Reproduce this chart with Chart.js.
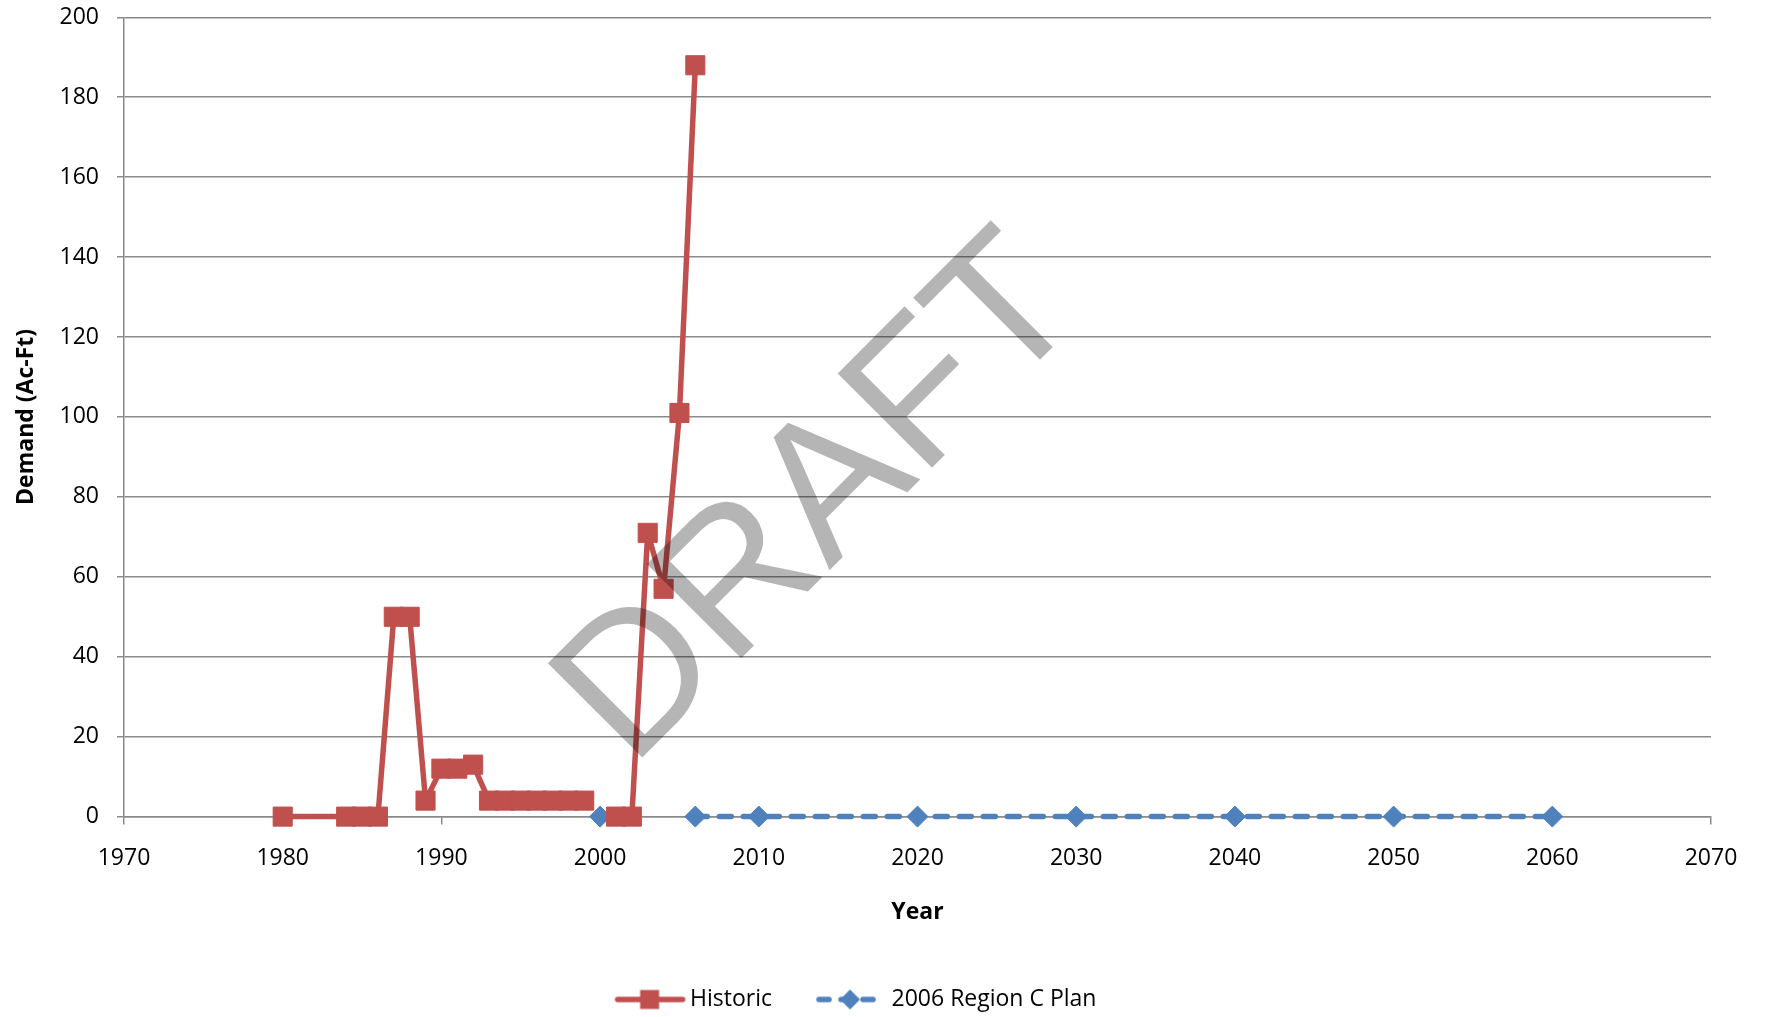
<!DOCTYPE html>
<html>
<head>
<meta charset="utf-8">
<script src="https://cdn.jsdelivr.net/npm/chart.js@4.4.1/dist/chart.umd.min.js"></script>
<style>
html,body{margin:0;padding:0;background:#ffffff;}
#wrap{width:1765px;height:1017px;}
</style>
</head>
<body>
<div id="wrap"><canvas id="c" width="1765" height="1017"></canvas></div>
<script>
// ---- data ----
const historicYears  = [1980,1984,1985,1986,1987,1988,1989,1990,1991,1992,1993,1994,1995,1996,1997,1998,1999,2000,2001,2002,2003,2004,2005,2006];
const historicValues = [0,   0,   0,   0,   50,  50,  4,   12,  12,  13,  4,   4,   4,   4,   4,   4,   4,   null,0,   0,   71,  57,  101, 188];
const planYears  = [2000,2001,2002,2003,2004,2005,2006,2010,2020,2030,2040,2050,2060];
const planValues = [0,   null,null,null,null,null,0,   0,   0,   0,   0,   0,   0];
const seriesNames = ['Historic', '2006 Region C Plan'];
const xTicks = {min: 1970, max: 2070, step: 10};
const yTicks = {min: 0, max: 200, step: 20};
const xAxisTitle = 'Year';
const yAxisTitle = 'Demand (Ac-Ft)';
const watermarkText = 'DRAFT';

// ---- style ----
const RED = '#C0504D';
const BLUE = '#4F81BD';
const GRID = '#8a8a8a';
const FONT = '"Open Sans", "Noto Sans", sans-serif';
const PLOT = {left: 124, right: 1711, top: 17.3, bottom: 816.6};
const PAD_BOTTOM = -4;

function legendIcon(color, dash, shape) {
  const c = document.createElement('canvas');
  c.width = 80; c.height = 26;
  const g = c.getContext('2d');
  g.strokeStyle = color; g.lineWidth = 5.5; g.lineCap = 'round';
  if (dash) g.setLineDash(dash);
  g.beginPath(); g.moveTo(11, 13); g.lineTo(76, 13); g.stroke();
  g.setLineDash([]);
  g.fillStyle = color;
  if (shape === 'rect') {
    g.fillRect(43 - 9.5, 13 - 9.5, 19, 19);
  } else {
    g.beginPath(); g.moveTo(42, 3); g.lineTo(52, 13); g.lineTo(42, 23); g.lineTo(32, 13); g.closePath(); g.fill();
  }
  return c;
}
const icons = [legendIcon(RED, null, 'rect'), legendIcon(BLUE, [10, 12], 'diamond')];

const watermark = {
  id: 'watermark',
  afterDraw(chart) {
    const a = chart.chartArea;
    const ctx = chart.ctx;
    ctx.save();
    ctx.translate(a.left + (a.right - a.left) * 0.3195, a.top + (a.bottom - a.top) * 0.940);
    ctx.rotate(-Math.PI / 4);
    ctx.font = '194px "Liberation Sans", Arial, sans-serif';
    ctx.fillStyle = 'rgba(0,0,0,0.29)';
    ctx.textAlign = 'left';
    ctx.textBaseline = 'alphabetic';
    ctx.fillText(watermarkText, 0, 0);
    ctx.restore();
  }
};

const tickFont = {family: FONT, size: 23};
const titleFont = {family: FONT, size: 23, weight: 'bold'};

new Chart(document.getElementById('c'), {
  type: 'line',
  data: {
    datasets: [
      {
        label: seriesNames[0],
        data: historicYears.map((x, i) => ({x: x, y: historicValues[i]})),
        borderColor: RED, backgroundColor: RED,
        borderWidth: 5.5, borderJoinStyle: 'round', borderCapStyle: 'round',
        pointStyle: 'rect', pointRadius: 13.5, pointBorderWidth: 1,
        pointBackgroundColor: RED, pointBorderColor: RED,
        pointHoverRadius: 13.5,
        tension: 0, spanGaps: false, clip: false
      },
      {
        label: seriesNames[1],
        data: planYears.map((x, i) => ({x: x, y: planValues[i]})),
        borderColor: BLUE, backgroundColor: BLUE,
        borderWidth: 5.5, borderDash: [12, 12], borderCapStyle: 'round',
        pointStyle: 'rectRot', pointRadius: 10.5, pointBorderWidth: 1,
        pointBackgroundColor: BLUE, pointBorderColor: BLUE,
        pointHoverRadius: 10.5,
        tension: 0, spanGaps: false, clip: false
      }
    ]
  },
  options: {
    responsive: false,
    animation: false,
    devicePixelRatio: 1,
    layout: {autoPadding: false, padding: {left: 0, right: 1765 - PLOT.right, top: PLOT.top, bottom: PAD_BOTTOM}},
    plugins: {
      tooltip: {enabled: false},
      legend: {
        display: true,
        position: 'bottom',
        labels: {
          usePointStyle: true,
          pointStyleWidth: 64,
          padding: 44,
          color: '#000',
          font: tickFont,
          generateLabels: (chart) => chart.data.datasets.map((ds, i) => ({
            text: ds.label, pointStyle: icons[i], datasetIndex: i, hidden: false,
            fillStyle: ds.borderColor, strokeStyle: ds.borderColor, lineWidth: 0, fontColor: '#000'
          }))
        }
      }
    },
    scales: {
      x: {
        type: 'linear',
        min: xTicks.min, max: xTicks.max,
        ticks: {stepSize: xTicks.step, padding: 20, color: '#000', font: tickFont, maxRotation: 0, autoSkip: false,
                callback: (v) => String(v)},
        grid: {drawOnChartArea: false, drawTicks: true, tickLength: 8, color: GRID, lineWidth: 1.5},
        border: {color: GRID, width: 1.5},
        title: {display: true, text: xAxisTitle, color: '#000', font: titleFont, padding: {top: 0, bottom: 18}},
        afterFit: (s) => {
          s.height = s.chart.height - PLOT.bottom - s.chart.legend.height - PAD_BOTTOM;
          s.paddingLeft = 0; s.paddingRight = 0;
        }
      },
      y: {
        min: yTicks.min, max: yTicks.max,
        ticks: {stepSize: yTicks.step, padding: 18, color: '#000', font: tickFont},
        grid: {color: GRID, lineWidth: 1.5, tickLength: 7, drawTicks: true},
        border: {color: GRID, width: 1.5},
        title: {display: true, text: yAxisTitle, color: '#000', font: titleFont, padding: {top: 13, bottom: 0}},
        afterFit: (s) => { s.width = PLOT.left; s.paddingTop = 0; s.paddingBottom = 0; }
      }
    }
  },
  plugins: [watermark]
});
</script>
</body>
</html>
